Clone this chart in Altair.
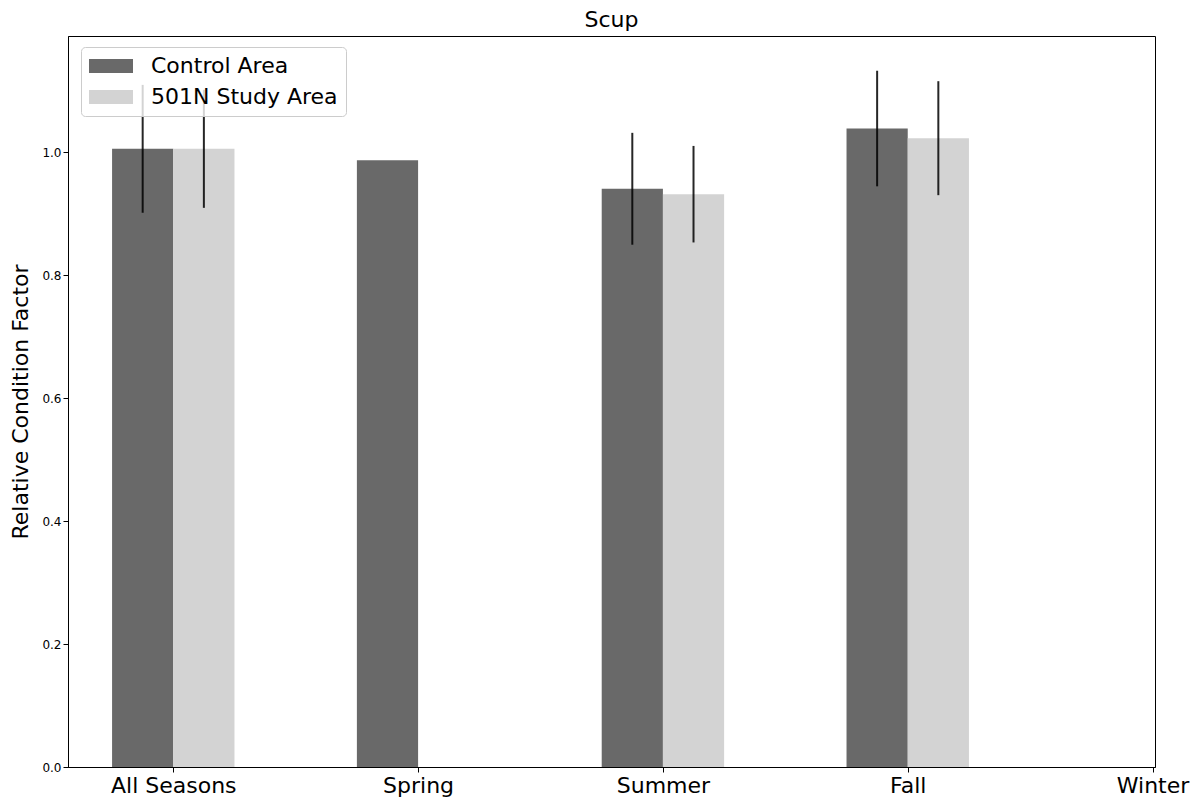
import altair as alt
import pandas as pd

seasons = ["All Seasons", "Spring", "Summer", "Fall", "Winter"]
positions = [0, 1, 2, 3, 4]
series = ["Control Area", "501N Study Area"]
control_mean = [1.0055, 0.987, 0.9405, 1.0385, None]
control_err = [0.104, None, 0.091, 0.094, None]
study_mean = [1.0055, None, 0.9317, 1.0228, None]
study_err = [0.096, None, 0.0785, 0.0927, None]
bar_width = 0.25

rows = []
for s, p, cm, ce, sm, se in zip(seasons, positions, control_mean, control_err, study_mean, study_err):
    if cm is not None:
        rows.append(dict(season=s, series=series[0], x0=p - bar_width, x1=p, xc=p - bar_width / 2,
                         mean=cm, lo=None if ce is None else cm - ce, hi=None if ce is None else cm + ce))
    if sm is not None:
        rows.append(dict(season=s, series=series[1], x0=p, x1=p + bar_width, xc=p + bar_width / 2,
                         mean=sm, lo=None if se is None else sm - se, hi=None if se is None else sm + se))
df = pd.DataFrame(rows)
err_df = df.dropna(subset=["lo", "hi"])

label_expr = "[" + ",".join("'%s'" % s for s in seasons) + "][round(datum.value)]"

xscale = alt.Scale(domain=[-0.43, 4.01], nice=False, zero=False)
yscale = alt.Scale(domain=[0, 1.189], nice=False)

bars = alt.Chart(df).mark_bar(opacity=1).encode(
    x=alt.X("x0:Q", scale=xscale, axis=alt.Axis(
        values=positions, labelExpr=label_expr, title=None, grid=False,
        labelFontSize=22, labelColor="#000000", tickColor="#000000", tickSize=5,
        labelPadding=3, domainColor="#000000", labelFont="DejaVu Sans")),
    x2="x1:Q",
    y=alt.Y("mean:Q", scale=yscale, axis=alt.Axis(
        values=[0, 0.2, 0.4, 0.6, 0.8, 1.0], format=".1f", title="Relative Condition Factor",
        titleFontSize=22, titleFontWeight="normal", titleColor="#000000", titlePadding=9,
        labelFontSize=12, labelColor="#000000", tickColor="#000000", tickSize=5,
        grid=False, domainColor="#000000", labelFont="DejaVu Sans", titleFont="DejaVu Sans")),
    y2=alt.datum(0),
    color=alt.Color("series:N", scale=alt.Scale(domain=series, range=["#696969", "#d3d3d3"]),
                    legend=alt.Legend(title=None, orient="none", legendX=13, legendY=11,
                                      symbolType="M-2,-0.64H2V0.64H-2Z", symbolSize=484,
                                      symbolOffset=11,
                                      symbolStrokeWidth=0, symbolOpacity=1,
                                      labelFontSize=22, labelFont="DejaVu Sans", labelColor="#000000",
                                      labelOffset=29, rowPadding=9, padding=8,
                                      fillColor="rgba(255,255,255,0.8)", strokeColor="#cccccc",
                                      cornerRadius=4, labelLimit=400)),
)

errs = alt.Chart(err_df).mark_rule(color="#000000", strokeWidth=2, opacity=0.85).encode(
    x=alt.X("xc:Q", scale=xscale),
    y=alt.Y("lo:Q", scale=yscale),
    y2="hi:Q",
)

chart = alt.layer(bars, errs).properties(
    width=1087, height=731,
    title=alt.Title("Scup", fontSize=22, fontWeight="normal", font="DejaVu Sans", color="#000000", offset=4),
    autosize=alt.AutoSizeParams(type="none"),
    padding={"left": 60, "top": 28, "right": 37, "bottom": 40},
).configure_view(stroke="#000000", strokeWidth=1)

chart.save("out.html", embed_options={"renderer": "svg", "actions": False})
